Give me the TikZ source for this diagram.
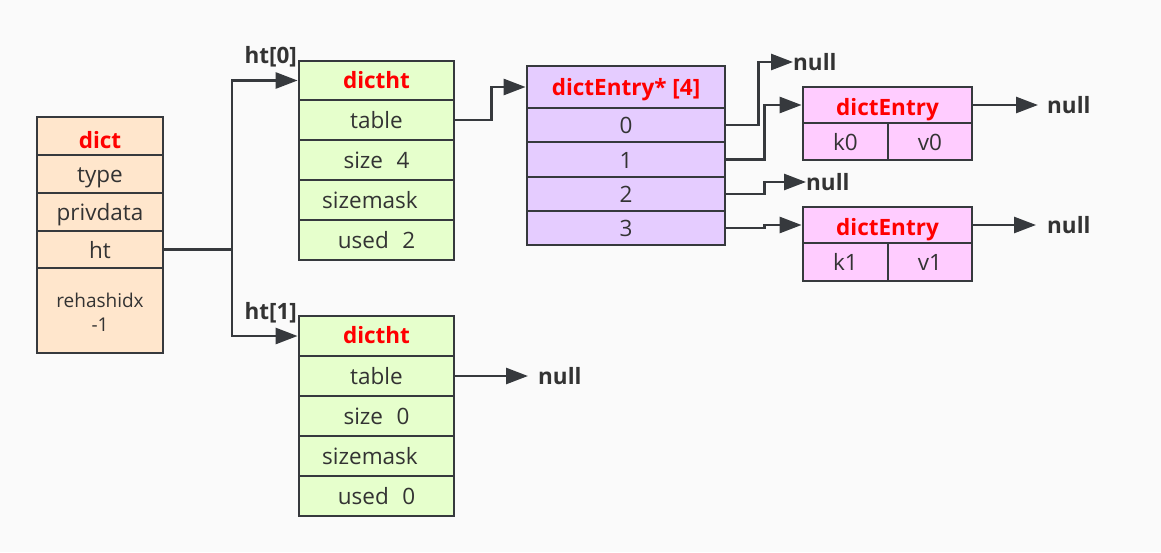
\documentclass[tikz,border=0pt]{standalone}
\usepackage{fontspec}
\setmainfont{Open Sans}
\usetikzlibrary{arrows.meta}
\definecolor{bg}{HTML}{FAFAFA}
\definecolor{ln}{HTML}{36393D}
\definecolor{txt}{HTML}{333333}
\definecolor{peach}{HTML}{FFE6CC}
\definecolor{lgreen}{HTML}{E6FFCC}
\definecolor{lav}{HTML}{E5CCFF}
\definecolor{pink}{HTML}{FFCCFF}
\definecolor{hred}{HTML}{FF0000}
\tikzset{
  cell/.style={draw=ln, line width=2.8pt, inner sep=0pt, text=txt, font=\fontsize{22.5}{26}\selectfont, text height=19.5pt, text depth=2.5pt},
  hdr/.style={inner sep=0pt, anchor=base, text=hred, font=\fontsize{22.5}{26}\selectfont\bfseries},
  small/.style={inner sep=0pt, anchor=base, text=txt, font=\fontsize{19}{24}\selectfont},
  dcell/.style={cell, fill=peach, minimum width=126pt},
  tcell/.style={cell, fill=lgreen, minimum width=155pt, minimum height=40pt},
  acell/.style={cell, fill=lav, minimum width=198pt},
  ecell/.style={cell, fill=pink},
  conn/.style={draw=ln, line width=2.7pt, -{Triangle[length=22pt,width=16pt]}},
  lbl/.style={inner sep=0pt, text=txt, font=\fontsize{22.5}{26}\selectfont\bfseries},
}
\begin{document}
\begin{tikzpicture}[x=1pt,y=-1pt]
\fill[bg] (0,0) rectangle (1161,552);
\useasboundingbox (0,0) rectangle (1161,552);
% dict
\node[dcell, minimum height=38pt] (dh) at (100,136) {};
\node[hdr] (dhl) at (100,148.3) {dict};
\node[dcell, minimum height=38pt] (dtype) at (100,174) {type};
\node[dcell, minimum height=38pt] (dpriv) at (100,212) {privdata};
\node[dcell, minimum height=37pt] (dht) at (100,249.5) {ht};
\node[dcell, minimum height=85pt] (dre) at (100,310.5) {};
\node[small] (dre1) at (100,307.7) {rehashidx};
\node[small] (dre2) at (100,331.7) {-1};
% dictht 0
\node[tcell, minimum height=39pt] (t0h) at (376.5,80.5) {};
\node[hdr] (t0hl) at (376.5,88.3) {dictht};
\node[tcell] (t0tab) at (376.5,120) {table};
\node[tcell] (t0size) at (376.5,160) {size\hspace{0.6em}4};
\node[tcell] (t0mask) at (376.5,200) {\hspace{-13pt}sizemask};
\node[tcell] (t0used) at (376.5,240) {used\hspace{0.6em}2};
% dictht 1
\node[tcell] (t1h) at (376.5,336) {};
\node[hdr] (t1hl) at (376.5,343.5) {dictht};
\node[tcell] (t1tab) at (376.5,376) {table};
\node[tcell] (t1size) at (376.5,416) {size\hspace{0.6em}0};
\node[tcell] (t1mask) at (376.5,456) {\hspace{-13pt}sizemask};
\node[tcell] (t1used) at (376.5,496) {used\hspace{0.6em}0};
% array
\node[acell, minimum height=42pt] (ah) at (626,87) {};
\node[hdr] (ahl) at (626,95) {dictEntry* [4]};
\node[acell, minimum height=34pt] (a0) at (626,125) {0};
\node[acell, minimum height=35pt] (a1) at (626,159.5) {1};
\node[acell, minimum height=34pt] (a2) at (626,194) {2};
\node[acell, minimum height=34pt] (a3) at (626,228) {3};
% entries
\node[ecell, minimum width=169pt, minimum height=36pt] (e0h) at (887.5,105) {};
\node[hdr] (e0hl) at (887.5,115) {dictEntry};
\node[ecell, minimum width=85pt, minimum height=37pt] (k0) at (845.5,141.5) {k0};
\node[ecell, minimum width=84pt, minimum height=37pt] (v0) at (930,141.5) {v0};
\node[ecell, minimum width=169pt, minimum height=36pt] (e1h) at (887.5,225) {};
\node[hdr] (e1hl) at (887.5,235) {dictEntry};
\node[ecell, minimum width=85pt, minimum height=38pt] (k1) at (845.5,262) {k1};
\node[ecell, minimum width=84pt, minimum height=38pt] (v1) at (930,262) {v1};
% labels
\node[lbl, anchor=east] (l0) at (297,57) {ht[0]};
\node[lbl, anchor=east] (l1) at (297,313) {ht[1]};
\node[lbl, anchor=west] (n0) at (793,62) {null};
\node[lbl, anchor=west] (n2) at (806,182) {null};
\node[lbl, anchor=west] (n3) at (1047,105) {null};
\node[lbl, anchor=west] (n4) at (1047,225) {null};
\node[lbl, anchor=west] (n5) at (538,376) {null};
% connectors
\coordinate (j) at (232,249.5);
\draw[conn, -] (dht.east) -- (j);
\draw[conn] (j) |- (t0h.west);
\draw[conn] (j) |- (t1h.west);
\draw[conn] (t0tab.east) -- ++(36,0) |- (ah.west);
\draw[conn] (a0.east) -- ++(32,0) |- (n0.west);
\draw[conn] (a1.east) -- ++(38,0) |- (e0h.west);
\draw[conn] (a2.east) -- ++(38,0) |- (n2.west);
\draw[conn] (a3.east) -- ++(38,0) |- (e1h.west);
\draw[conn, shorten >=9pt] (e0h.east) -- (n3.west);
\draw[conn, shorten >=11pt] (e1h.east) -- (n4.west);
\draw[conn, shorten >=10pt] (t1tab.east) -- (n5.west);
\end{tikzpicture}
\end{document}
